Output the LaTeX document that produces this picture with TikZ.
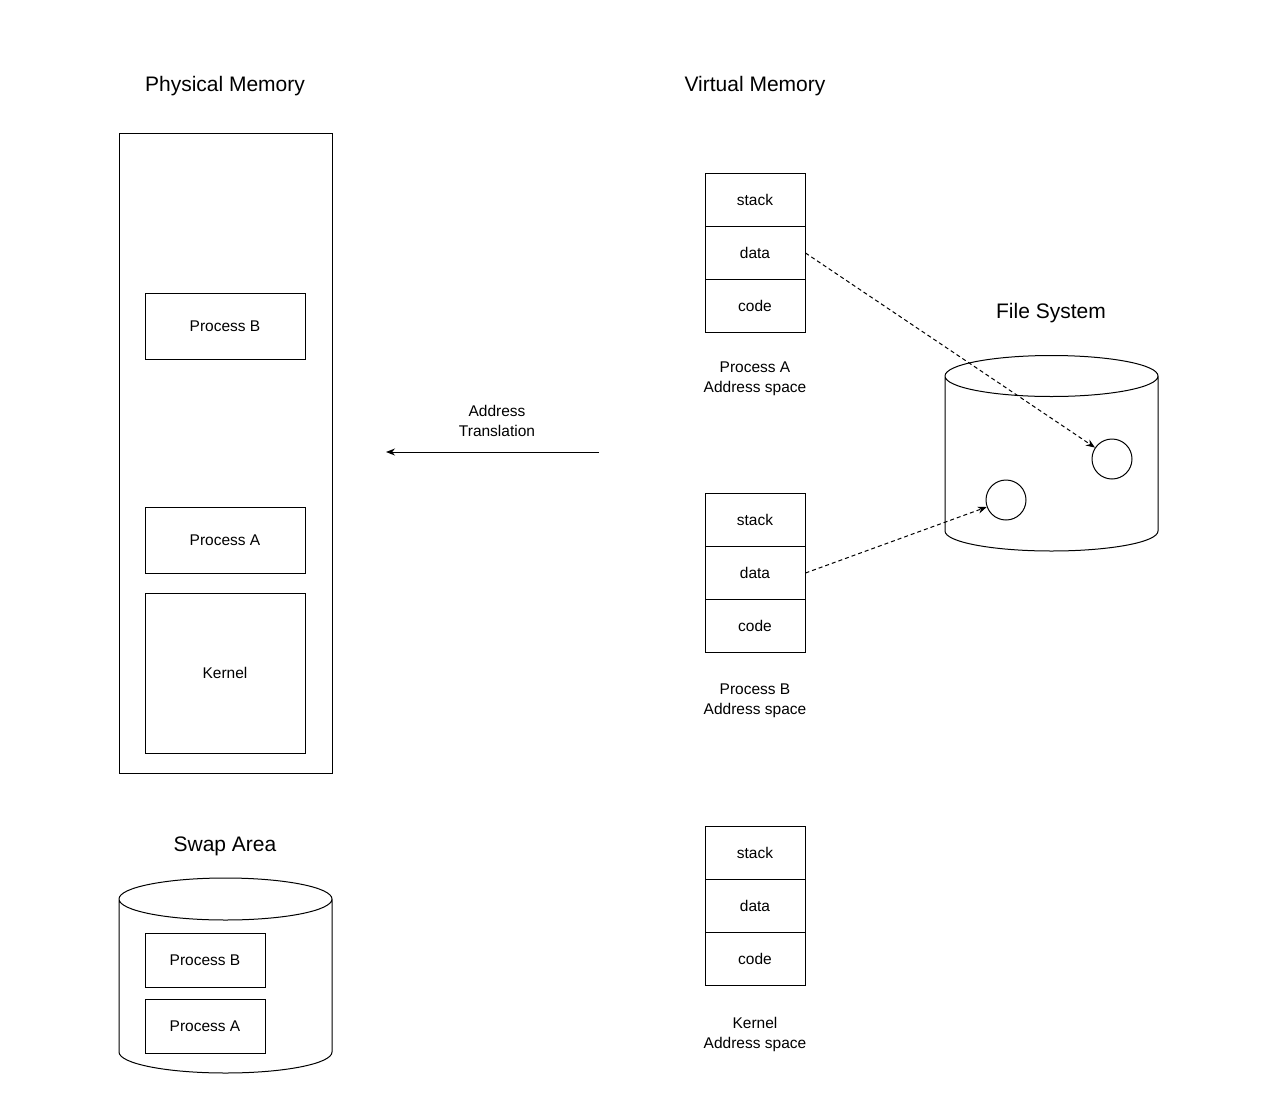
\documentclass[tikz,border=0pt]{standalone}
\usepackage{fontspec}
\setmainfont{Liberation Sans}
\usetikzlibrary{arrows.meta}
\begin{document}
\begin{tikzpicture}[x=1pt,y=-1pt,line width=1pt,
  box/.style={draw,rectangle,inner sep=0pt,font=\fontsize{15.5}{18}\selectfont},
  cell/.style={box,minimum width=100pt,minimum height=53.33pt},
  title/.style={font=\fontsize{21}{24}\selectfont},
  lbl/.style={align=center,font=\fontsize{15.5}{20}\selectfont},
  hole/.style={draw,circle,minimum size=40pt,inner sep=0pt},
  tip/.style={-{Stealth[length=9pt,width=7pt]}},
  link/.style={tip,dashed,dash pattern=on 4pt off 3pt}]
\useasboundingbox (0,0) rectangle (1262,1112);
% Physical memory
\node[title] (tPM) at (225,86.5) {Physical Memory};
\node[box,minimum width=213pt,minimum height=640pt] (pm) at (225.5,453) {};
\node[box,minimum width=160pt,minimum height=66pt] (pB) at (225,326) {Process B};
\node[box,minimum width=160pt,minimum height=66pt] (pA) at (225,540) {Process A};
\node[box,minimum width=160pt,minimum height=160pt] (kern) at (225,673) {Kernel};
% Swap area
\node[title] (tSA) at (225,846.5) {Swap Area};
\draw (119,899) arc[start angle=180,end angle=540,x radius=106.5,y radius=21]
      (119,899) -- (119,1052) arc[start angle=180,end angle=360,x radius=106.5,y radius=-21] -- (332,899);
\node[box,minimum width=120pt,minimum height=54pt] (sB) at (205,960) {Process B};
\node[box,minimum width=120pt,minimum height=54pt] (sA) at (205,1026) {Process A};
% Virtual memory
\node[title] (tVM) at (755,86.5) {Virtual Memory};
\node[cell] (sA1) at (755,199.7) {stack};
\node[cell] (dA1) at (755,253) {data};
\node[cell] (cA1) at (755,306.3) {code};
\node[lbl] (lA) at (755,379) {Process A\\Address space};
\node[cell] (sB1) at (755,519.7) {stack};
\node[cell] (dB1) at (755,573) {data};
\node[cell] (cB1) at (755,626.3) {code};
\node[lbl] (lB) at (755,701) {Process B\\Address space};
\node[cell] (sK1) at (755,852.7) {stack};
\node[cell] (dK1) at (755,906) {data};
\node[cell] (cK1) at (755,959.3) {code};
\node[lbl] (lK) at (755,1034) {Kernel\\Address space};
% File system
\node[title] (tFS) at (1051,313.5) {File System};
\draw (945,376) arc[start angle=180,end angle=540,x radius=106.5,y radius=20.5]
      (945,376) -- (945,531) arc[start angle=180,end angle=360,x radius=106.5,y radius=-20] -- (1158,376);
\node[hole] (h1) at (1112,459) {};
\node[hole] (h2) at (1006,500) {};
\draw[link] (dA1.east) -- (h1);
\draw[link] (dB1.east) -- (h2);
% Address translation
\coordinate (atS) at (599,452);
\coordinate (atE) at (386,452);
\draw[tip] (atS) -- (atE);
\node[lbl] (lAT) at (497,421) {Address\\Translation};
\end{tikzpicture}
\end{document}
